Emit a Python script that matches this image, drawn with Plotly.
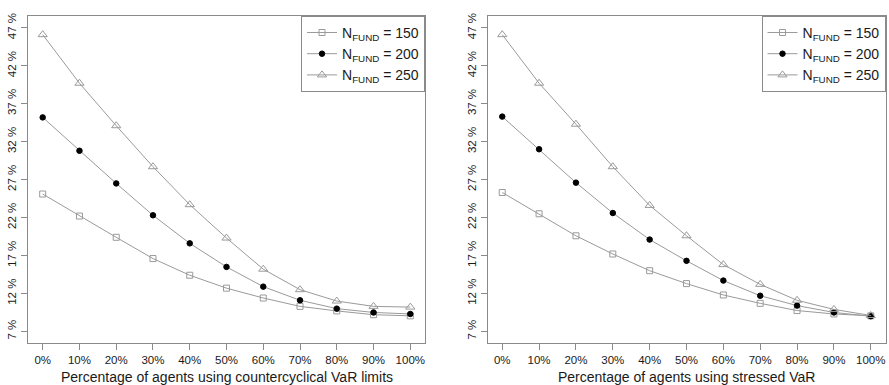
import plotly.graph_objects as go

W, H = 889, 385

x_labels = ["0%", "10%", "20%", "30%", "40%", "50%", "60%", "70%", "80%", "90%", "100%"]
x_vals = [0, 10, 20, 30, 40, 50, 60, 70, 80, 90, 100]

# Left panel: countercyclical VaR limits
left_150 = [25.1, 22.2, 19.4, 16.6, 14.4, 12.7, 11.4, 10.3, 9.7, 9.2, 9.05]
left_200 = [35.2, 30.8, 26.5, 22.3, 18.6, 15.5, 12.9, 11.1, 10.0, 9.5, 9.3]
left_250 = [46.1, 39.7, 34.1, 28.7, 23.7, 19.3, 15.2, 12.5, 11.0, 10.3, 10.2]

# Right panel: stressed VaR
right_150 = [25.3, 22.5, 19.6, 17.2, 15.0, 13.3, 11.8, 10.7, 9.75, 9.3, 9.05]
right_200 = [35.3, 31.0, 26.6, 22.6, 19.1, 16.3, 13.7, 11.7, 10.4, 9.5, 9.0]
right_250 = [46.1, 39.7, 34.3, 28.7, 23.6, 19.6, 15.8, 13.2, 11.1, 9.9, 9.1]

y_ticks = [7, 12, 17, 22, 27, 32, 37, 42, 47]
y_ticktext = ["7 %", "12 %", "17 %", "22 %", "27 %", "32 %", "37 %", "42 %", "47 %"]

series_names = ["N<sub>FUND</sub> = 150", "N<sub>FUND</sub> = 200", "N<sub>FUND</sub> = 250"]

titles = ["Percentage of agents using countercyclical VaR limits",
          "Percentage of agents using stressed VaR"]

LINE = "#9a9a9a"
FRAME = "#8a8a8a"
TXT = "#1a1a1a"
FONT = "Liberation Sans, Arial, sans-serif"

styles = [
    dict(symbol="square-open", size=6, color=LINE, line=dict(color=LINE, width=1)),
    dict(symbol="circle", size=5.5, color="black", line=dict(color="black", width=1)),
    dict(symbol="triangle-up-open", size=8, color=LINE, line=dict(color=LINE, width=1)),
]

fig = go.Figure()

panels = [
    ([left_150, left_200, left_250], "x", "y", "legend"),
    ([right_150, right_200, right_250], "x2", "y2", "legend2"),
]
for data, xa, ya, lg in panels:
    for vals, name, st in zip(data, series_names, styles):
        fig.add_trace(go.Scatter(
            x=x_vals, y=vals, mode="lines+markers", name=name,
            line=dict(color=LINE, width=1), marker=st,
            xaxis=xa, yaxis=ya, legend=lg, showlegend=True,
        ))

# domains in pixel terms
def px_x(a, b):
    return [a / W, b / W]

def px_y(top, bottom):
    return [1 - bottom / H, 1 - top / H]

xdom1 = px_x(28, 425)
xdom2 = px_x(487.5, 885.5)
ydom = px_y(13, 343)

axis_common = dict(showline=True, linecolor=FRAME, linewidth=1, mirror=True,
                   showgrid=False, zeroline=False, ticks="outside", ticklen=6,
                   tickcolor=FRAME, tickfont=dict(size=11.5, color=TXT, family=FONT))

xr = [-4, 104]
yr = [5.43, 48.57]

legend_common = dict(xanchor="right", yanchor="top",
                     bordercolor=FRAME, borderwidth=1, bgcolor="white",
                     font=dict(size=14, color=TXT, family=FONT),
                     itemwidth=30, tracegroupgap=0)

fig.update_layout(
    width=W, height=H,
    margin=dict(l=0, r=0, t=0, b=0),
    paper_bgcolor="white", plot_bgcolor="white",
    font=dict(family=FONT, color=TXT),
    xaxis=dict(domain=xdom1, range=xr, tickvals=x_vals, ticktext=x_labels,
               anchor="y", **axis_common),
    yaxis=dict(domain=ydom, range=yr, tickvals=y_ticks, ticktext=y_ticktext,
               tickangle=-90, anchor="x", **axis_common),
    xaxis2=dict(domain=xdom2, range=xr, tickvals=x_vals, ticktext=x_labels,
                anchor="y2", **axis_common),
    yaxis2=dict(domain=ydom, range=yr, tickvals=y_ticks, ticktext=y_ticktext,
                tickangle=-90, anchor="x2", **axis_common),
    legend=dict(x=xdom1[1], y=ydom[1], **legend_common),
    legend2=dict(x=xdom2[1], y=ydom[1], **legend_common),
)

for title, dom in zip(titles, [xdom1, xdom2]):
    fig.add_annotation(text=title, x=(dom[0] + dom[1]) / 2, y=1 - 377 / H,
                       xref="paper", yref="paper", xanchor="center", yanchor="middle",
                       showarrow=False, font=dict(size=14, color=TXT, family=FONT))

fig.write_html("out.html")
